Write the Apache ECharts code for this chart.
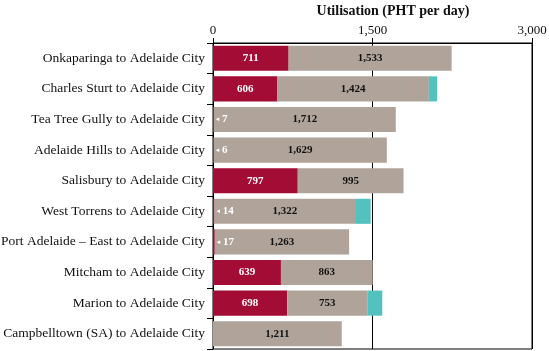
<!DOCTYPE html>
<html><head><meta charset="utf-8">
<script src="https://cdn.jsdelivr.net/npm/echarts@6/dist/echarts.min.js"></script>
<style>html,body{margin:0;padding:0;background:#fff}#c{width:549px;height:351px}</style>
</head><body><div id="c"></div>
<script>
const categories = ["Onkaparinga to Adelaide City","Charles Sturt to Adelaide City","Tea Tree Gully to Adelaide City","Adelaide Hills to Adelaide City","Salisbury to Adelaide City","West Torrens to Adelaide City","Port Adelaide – East to Adelaide City","Mitcham to Adelaide City","Marion to Adelaide City","Campbelltown (SA) to Adelaide City"];
const crimsonValues = [711, 606, 7, 6, 797, 14, 17, 639, 698, 0];
const grayValues = [1533, 1424, 1712, 1629, 995, 1322, 1263, 863, 753, 1211];
const tealValues = [0, 78, 0, 0, 0, 147, 0, 0, 141, 0];
const xTicks = [0, 1500, 3000];
const title = "Utilisation (PHT per day)";

const FONT = '"Liberation Serif","DejaVu Serif",serif';
const fmt = v => v.toLocaleString('en-US');
const chart = echarts.init(document.getElementById('c'), null, {renderer:'canvas'});
const crimsonData = crimsonValues.map(v => (v > 0 && v < 100)
  ? {value:v,label:{position:'right',distance:2,formatter:'{a|◂} '+v}}
  : v);
chart.setOption({
  animation:false,
  title:{text:title,left:388,textAlign:'center',top:-1,textStyle:{fontFamily:FONT,fontWeight:'bold',fontSize:14,color:'#111'}},
  grid:{left:213,right:17,top:43,bottom:2,containLabel:false,outerBoundsMode:'none',show:true,borderColor:'#000',borderWidth:1},
  xAxis:{type:'value',position:'top',min:xTicks[0],max:xTicks[2],interval:1500,
    axisLine:{show:true,lineStyle:{color:'#000',width:1}},
    axisTick:{show:true,length:5,lineStyle:{color:'#000'}},
    axisLabel:{fontFamily:FONT,fontSize:13,color:'#111',margin:6,formatter:v=>fmt(v)},
    splitLine:{show:true,lineStyle:{color:'#000',width:1}}},
  yAxis:{type:'category',inverse:true,data:categories,
    axisLine:{show:true,lineStyle:{color:'#000',width:1}},
    axisTick:{show:true,length:6,lineStyle:{color:'#000'}},
    axisLabel:{fontFamily:FONT,fontSize:13.5,color:'#111',margin:8}},
  series:[
    {type:'bar',stack:'a',data:crimsonData,barWidth:'82%',itemStyle:{color:'#A30C35'},
     label:{show:true,fontFamily:FONT,fontWeight:'bold',fontSize:11,color:'#fff',
       position:'inside',rich:{a:{fontSize:7,color:'#fff'}},
       formatter:p=>p.value===0?'':fmt(p.value)}},
    {type:'bar',stack:'a',data:grayValues,itemStyle:{color:'#AFA39A'},
     label:{show:true,position:'inside',fontFamily:FONT,fontWeight:'bold',fontSize:11,color:'#111',formatter:p=>fmt(p.value)}},
    {type:'bar',stack:'a',data:tealValues,itemStyle:{color:'#53C2BE'},label:{show:false}}
  ]
});
</script></body></html>
